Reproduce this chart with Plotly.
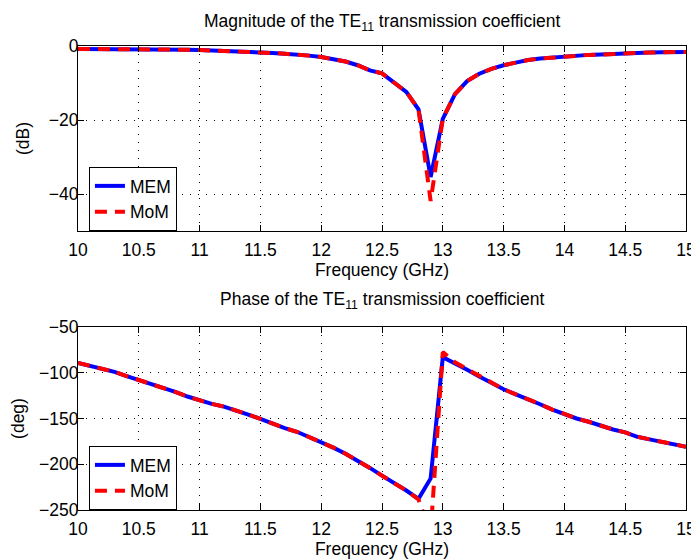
import plotly.graph_objects as go

freq = [round(10 + 0.1 * i, 1) for i in range(51)]

mem_mag = [-0.8, -0.8, -0.8, -0.8, -0.8, -0.9, -0.9, -0.9, -1.0, -1.0,
           -1.1, -1.2, -1.3, -1.4, -1.5, -1.7, -1.9, -2.1, -2.3, -2.6,
           -3.0, -3.5, -4.2, -5.2, -6.6, -7.4, -9.9, -12.4, -17.1, -35.4,
           -19.7, -13.0, -9.5, -7.5, -6.2, -5.2, -4.5, -3.8, -3.4, -3.1,
           -2.8, -2.6, -2.4, -2.3, -2.1, -1.9, -1.8, -1.75, -1.7, -1.65,
           -1.6]
mom_mag = [-0.8, -0.8, -0.8, -0.8, -0.8, -0.9, -0.9, -0.9, -1.0, -1.0,
           -1.1, -1.2, -1.3, -1.4, -1.5, -1.7, -1.9, -2.1, -2.3, -2.6,
           -3.0, -3.5, -4.2, -5.2, -6.6, -7.4, -9.9, -12.4, -17.1, -41.9,
           -19.7, -13.0, -9.5, -7.5, -6.2, -5.2, -4.5, -3.8, -3.4, -3.1,
           -2.8, -2.6, -2.4, -2.3, -2.1, -1.9, -1.8, -1.75, -1.7, -1.65,
           -1.6]

mem_phase = [-89.3, -92.5, -95.0, -99.0, -103.6, -108.0, -111.8, -116.0, -121.0, -126.0,
             -130.4, -134.0, -137.0, -141.0, -145.7, -150.4, -155.5, -160.5, -164.5, -170.0,
             -176.0, -181.8, -188.5, -196.0, -204.0, -212.5, -220.5, -228.7, -237.8, -215.5,
             -83.0, -89.5, -96.7, -104.0, -111.2, -118.0, -123.6, -128.6, -134.4, -140.2,
             -145.3, -150.0, -153.6, -158.3, -162.0, -165.2, -170.0, -172.8, -175.4, -178.0,
             -180.8]
mom_phase = [-89.3, -92.5, -95.0, -99.0, -103.6, -108.0, -111.8, -116.0, -121.0, -126.0,
             -130.4, -134.0, -137.0, -141.0, -145.7, -150.4, -155.5, -160.5, -164.5, -170.0,
             -176.0, -181.8, -188.5, -196.0, -204.0, -212.5, -220.5, -228.7, -238.5, -275.0,
             -77.5, -88.5, -96.0, -103.5, -111.0, -118.0, -123.6, -128.6, -134.4, -140.2,
             -145.3, -150.0, -153.6, -158.3, -162.0, -165.2, -170.0, -172.8, -175.4, -178.0,
             -180.8]

x_ticks = [10, 10.5, 11, 11.5, 12, 12.5, 13, 13.5, 14, 14.5, 15]
x_ticktext = ["10", "10.5", "11", "11.5", "12", "12.5", "13", "13.5", "14", "14.5", "15"]
mag_ticks = [-40, -20, 0]
phase_ticks = [-250, -200, -150, -100, -50]

FONT = "Liberation Sans, Arial, Helvetica, sans-serif"
FS = 17.5
BLUE = "#0000FF"
RED = "#FF0000"

# the page body adds an 8px margin, so the figure is drawn 8px smaller
W, H = 691, 552
L, R, T, B = 70, 13, 38, 50
PH = H - T - B  # plot-area height in px


def py(y_fig):
    return (H - B - y_fig) / PH


fig = go.Figure()

fig.add_trace(go.Scatter(x=freq, y=mem_mag, mode="lines", name="MEM",
                         line=dict(color=BLUE, width=4), xaxis="x", yaxis="y",
                         legend="legend"))
fig.add_trace(go.Scatter(x=freq, y=mom_mag, mode="lines", name="MoM",
                         line=dict(color=RED, width=4, dash="12px,8px"),
                         xaxis="x", yaxis="y", legend="legend"))
fig.add_trace(go.Scatter(x=freq, y=mem_phase, mode="lines", name="MEM",
                         line=dict(color=BLUE, width=4), xaxis="x2", yaxis="y2",
                         legend="legend2"))
fig.add_trace(go.Scatter(x=freq, y=mom_phase, mode="lines", name="MoM",
                         line=dict(color=RED, width=4, dash="12px,8px"),
                         xaxis="x2", yaxis="y2", legend="legend2"))

common = dict(showline=True, linecolor="black", linewidth=1, mirror="ticks",
              ticks="inside", ticklen=6, tickcolor="black", zeroline=False,
              showgrid=True, gridcolor="black", gridwidth=1, griddash="1px,7px",
              automargin=False,
              tickfont=dict(family=FONT, size=FS, color="black"))

# reference pixel rows (screen): top plot 46..231, bottom plot 326..510
top_dom = [py(231 - 8), 1.0]
bot_dom = [0.0, py(327 - 8)]

xcommon = dict(common, domain=[0, 1], range=[10, 15], tickvals=x_ticks,
               ticktext=x_ticktext, ticklabelstandoff=3)
ycommon = dict(common, ticklabelstandoff=-5)

fig.update_layout(
    width=W, height=H,
    margin=dict(l=L, r=R, t=T, b=B),
    paper_bgcolor="white", plot_bgcolor="white",
    font=dict(family=FONT, size=FS, color="black"),
    xaxis=dict(xcommon, anchor="y",
               title=dict(text="Frequency (GHz)", standoff=0,
                          font=dict(family=FONT, size=FS))),
    yaxis=dict(ycommon, domain=top_dom, range=[-50, 0], tickvals=mag_ticks,
               anchor="x",
               title=dict(text="(dB)", standoff=14, font=dict(family=FONT, size=FS))),
    xaxis2=dict(xcommon, anchor="y2",
                title=dict(text="Frequency (GHz)", standoff=0,
                           font=dict(family=FONT, size=FS))),
    yaxis2=dict(ycommon, domain=bot_dom, range=[-250, -50], tickvals=phase_ticks,
                anchor="x2",
                title=dict(text="(deg)", standoff=14, font=dict(family=FONT, size=FS))),
    legend=dict(x=0.018, y=py(167 - 8), xanchor="left", yanchor="top",
                bgcolor="white", bordercolor="black", borderwidth=1,
                font=dict(family=FONT, size=FS), tracegroupgap=0),
    legend2=dict(x=0.018, y=py(446 - 8), xanchor="left", yanchor="top",
                 bgcolor="white", bordercolor="black", borderwidth=1,
                 font=dict(family=FONT, size=FS), tracegroupgap=0),
    annotations=[
        dict(text="Magnitude of the TE<sub>11</sub> transmission coefficient",
             xref="paper", yref="paper", x=0.5, y=py(22 - 8),
             xanchor="center", yanchor="middle", showarrow=False,
             font=dict(family=FONT, size=FS)),
        dict(text="Phase of the TE<sub>11</sub> transmission coefficient",
             xref="paper", yref="paper", x=0.5, y=py(300 - 8),
             xanchor="center", yanchor="middle", showarrow=False,
             font=dict(family=FONT, size=FS)),
    ],
)

fig.write_html("out.html")
